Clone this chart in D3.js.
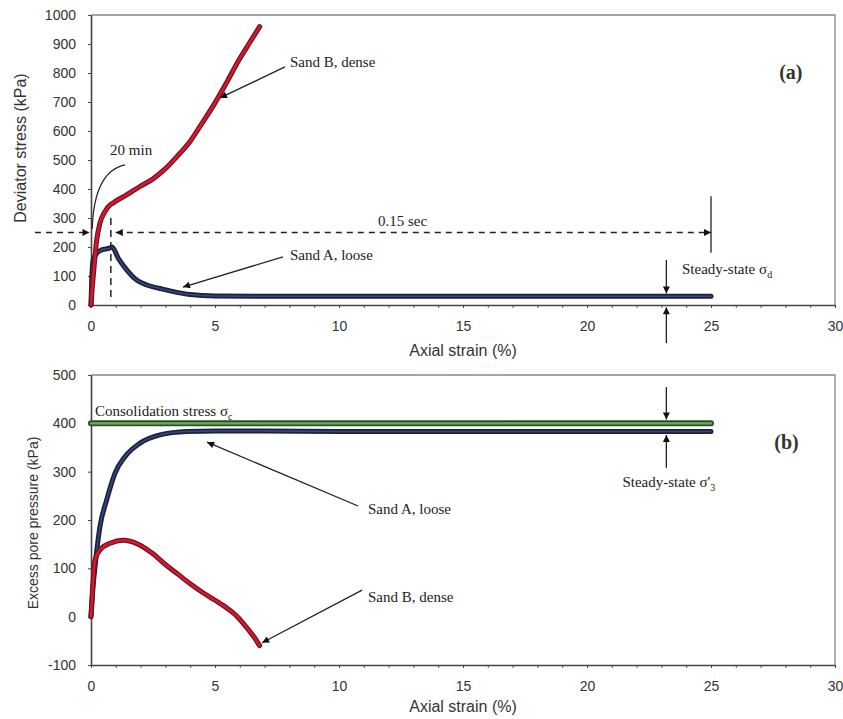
<!DOCTYPE html>
<html>
<head>
<meta charset="utf-8">
<script src="https://cdn.jsdelivr.net/npm/d3@7"></script>
<style>
  body { margin: 0; background: #fff; }
  svg text { font-family: "Liberation Sans", Arial, sans-serif; fill: #333; }
  .ann { font-family: "Liberation Serif", "Times New Roman", serif; font-size: 15px; fill: #222; }
  .tag { font-family: "Liberation Serif", "Times New Roman", serif; font-size: 20px; font-weight: bold; fill: #333; }
</style>
</head>
<body>
<div id="chart"></div>
<script>
// Axis ticks
const strainTicks = [0, 5, 10, 15, 20, 25, 30];
const devTicks = [0, 100, 200, 300, 400, 500, 600, 700, 800, 900, 1000];
const poreTicks = [-100, 0, 100, 200, 300, 400, 500];

// (a) deviator stress (kPa) vs axial strain (%)
const devStrainB = [0, 0.05, 0.09, 0.16, 0.23, 0.36, 0.56, 0.77, 0.9, 1.0, 1.4, 2.0, 2.5, 3.0, 3.5, 4.0, 4.5, 5.0, 5.5, 6.0, 6.4, 6.8];
const devB = [0, 60, 98, 166, 224, 282, 322, 345, 352, 358, 378, 410, 435, 470, 515, 565, 630, 697, 772, 850, 905, 960];
const devStrainA = [0, 0.03, 0.09, 0.23, 0.43, 0.74, 0.85, 1.1, 1.44, 1.84, 2.25, 2.78, 3.32, 4.0, 5.0, 7, 10, 15, 20, 25];
const devA = [0, 90, 155, 178, 190, 196, 200, 161, 121, 86, 69, 57, 46, 36, 31, 30, 30, 30, 30, 30];

// (b) excess pore pressure (kPa) vs axial strain (%)
const poreStrainA = [0, 0.08, 0.16, 0.36, 0.63, 0.97, 1.37, 1.98, 2.78, 3.86, 5, 7, 10, 15, 20, 25];
const poreA = [0, 60, 103, 186, 241, 297, 331, 359, 376, 383, 384, 384, 383, 383, 383, 383];
const poreStrainB = [0, 0.08, 0.16, 0.36, 0.77, 1.3, 1.9, 2.5, 3.0, 3.5, 4.0, 4.5, 5.0, 5.5, 5.9, 6.3, 6.6, 6.8];
const poreB = [0, 70, 117, 138, 152, 158, 150, 130, 108, 88, 68, 50, 34, 17, 0, -24, -44, -60];
const consolStrain = [0, 25];
const consolStress = [400, 400];

function drawChart(containerId) {
    var W = 843, H = 719;

    var svg = d3.select("#" + containerId)
        .append("svg")
        .attr("width", W)
        .attr("height", H);

    var defs = svg.append("defs");
    defs.append("marker")
        .attr("id", "arrow")
        .attr("viewBox", "0 0 10 10")
        .attr("refX", 10).attr("refY", 5)
        .attr("markerWidth", 9).attr("markerHeight", 7)
        .attr("markerUnits", "userSpaceOnUse")
        .attr("orient", "auto-start-reverse")
        .append("path")
        .attr("d", "M0,0L10,5L0,10Z")
        .attr("fill", "#111");

    const x = d3.scaleLinear().domain([0, 30]).range([91, 835]);
    const yTop = d3.scaleLinear().domain([0, 1000]).range([305, 15]);
    const yBot = d3.scaleLinear().domain([-100, 500]).range([665, 375]);

    function zip(xs, ys) { return xs.map((v, i) => ({x: v, y: ys[i]})); }

    function frame(y, ticks, title, titleX, titleY, titleSize, xTitleGap) {
        var g = svg.append("g");
        const y0 = y.range()[0], y1 = y.range()[1];
        // top & right border
        g.append("path")
            .attr("d", `M${x(0)},${y1}H${x(30)}V${y0}`)
            .attr("fill", "none").attr("stroke", "#888").attr("stroke-width", 1.3);
        // minor ticks on x
        g.append("g")
            .attr("transform", `translate(0,${y0})`)
            .call(d3.axisBottom(x).tickValues(d3.range(0, 31)).tickSize(3).tickSizeOuter(0).tickFormat(""))
            .call(s => s.select(".domain").remove())
            .selectAll("line").attr("stroke", "#555");
        var xa = g.append("g")
            .attr("transform", `translate(0,${y0})`)
            .call(d3.axisBottom(x).tickValues(strainTicks).tickSize(3).tickSizeOuter(0).tickPadding(13));
        xa.select(".domain").attr("stroke", "#444").attr("stroke-width", 1.6);
        xa.selectAll("line").attr("stroke", "#444");
        xa.selectAll("text").attr("font-size", 14).attr("fill", "#3a3a3a")
            .attr("font-family", "'Liberation Sans', Arial, sans-serif");
        var ya = g.append("g")
            .attr("transform", `translate(${x(0)},0)`)
            .call(d3.axisLeft(y).tickValues(ticks).tickSize(3).tickSizeOuter(0).tickPadding(12)
                .tickFormat(d => String(d)));
        ya.select(".domain").attr("stroke", "#444").attr("stroke-width", 1.6);
        ya.selectAll("line").attr("stroke", "#444");
        ya.selectAll("text").attr("font-size", 14).attr("fill", "#3a3a3a")
            .attr("font-family", "'Liberation Sans', Arial, sans-serif");
        // axis titles
        g.append("text")
            .attr("x", (x(0) + x(30)) / 2)
            .attr("y", y0 + xTitleGap)
            .attr("text-anchor", "middle")
            .style("font-size", "16px")
            .text("Axial strain (%)");
        g.append("text")
            .attr("transform", `translate(${titleX},${titleY}) rotate(-90)`)
            .attr("text-anchor", "middle")
            .style("font-size", titleSize + "px")
            .text(title);
    }

    frame(yTop, devTicks, "Deviator stress (kPa)", 26, 148, 16, 51);
    frame(yBot, poreTicks, "Excess pore pressure (kPa)", 38, 523, 14, 47);

    // thick curve with a darker rim
    function curve(data, y, rim, core, wRim, wCore) {
        const line = d3.line().x(d => x(d.x)).y(d => y(d.y)).curve(d3.curveMonotoneX);
        svg.append("path").datum(data)
            .attr("fill", "none").attr("stroke", rim).attr("stroke-width", wRim)
            .attr("stroke-linejoin", "round").attr("stroke-linecap", "round")
            .attr("d", line);
        svg.append("path").datum(data)
            .attr("fill", "none").attr("stroke", core).attr("stroke-width", wCore)
            .attr("stroke-linejoin", "round").attr("stroke-linecap", "round")
            .attr("d", line);
    }

    function arrow(x1, y1, x2, y2, y, opts) {
        opts = opts || {};
        var l = svg.append("line")
            .attr("x1", x(x1)).attr("y1", y(y1))
            .attr("x2", x(x2)).attr("y2", y(y2))
            .attr("stroke", "#222").attr("stroke-width", opts.w || 1.3);
        if (opts.dash) l.attr("stroke-dasharray", opts.dash);
        if (opts.end !== false) l.attr("marker-end", "url(#arrow)");
        if (opts.start) l.attr("marker-start", "url(#arrow)");
        return l;
    }

    function label(xv, yv, y, txt, sub, anchor) {
        var t = svg.append("text")
            .attr("class", "ann")
            .attr("x", x(xv)).attr("y", y(yv))
            .attr("text-anchor", anchor || "start")
            .text(txt);
        if (sub) {
            t.append("tspan").attr("font-size", 10).attr("dy", 4).text(sub);
        }
        return t;
    }

    // ---- panel (a)
    curve(zip(devStrainA, devA), yTop, "#1b2140", "#3a4878", 5, 1.6);
    curve(zip(devStrainB, devB), yTop, "#6e1020", "#d3192f", 5, 2.6);

    // time markers
    arrow(-2.26, 250, -0.06, 250, yTop, {dash: "6,5", w: 1.5});
    arrow(1.0, 250, 25, 250, yTop, {dash: "6,5", w: 1.5, start: true});
    arrow(0.8, 300, 0.8, 15, yTop, {dash: "7,5", w: 1.5, end: false});
    arrow(25, 375, 25, 180, yTop, {w: 1.3, end: false});

    // "20 min" leader
    var p = d3.path();
    p.moveTo(x(1.37), yTop(483));
    p.quadraticCurveTo(x(0.12), yTop(460), x(0.05), yTop(262));
    svg.append("path").attr("d", p.toString())
        .attr("fill", "none").attr("stroke", "#222").attr("stroke-width", 1.2);
    label(0.77, 517, yTop, "20 min");
    label(11.57, 272, yTop, "0.15 sec");

    arrow(7.82, 821, 5.2, 714, yTop);
    label(8.02, 822, yTop, "Sand B, dense");
    arrow(7.74, 166, 3.71, 62, yTop);
    label(8.02, 155, yTop, "Sand A, loose");

    arrow(23.2, 155, 23.2, 40, yTop);
    arrow(23.2, -131, 23.2, -8, yTop);
    label(23.83, 107, yTop, "Steady-state σ", "d");

    svg.append("text").attr("class", "tag")
        .attr("x", x(27.75)).attr("y", yTop(780))
        .text("(a)");

    // ---- panel (b)
    curve(zip(consolStrain, consolStress), yBot, "#2d4f2a", "#6aae58", 6, 2.4);
    curve(zip(poreStrainA, poreA), yBot, "#1b2140", "#3a4878", 5, 1.6);
    curve(zip(poreStrainB, poreB), yBot, "#6e1020", "#d3192f", 5, 2.6);

    label(0.16, 415, yBot, "Consolidation stress σ", "c");

    arrow(10.77, 229, 4.68, 361, yBot);
    label(11.17, 212, yBot, "Sand A, loose");
    arrow(10.93, 55, 6.9, -54, yBot);
    label(11.17, 30, yBot, "Sand B, dense");

    arrow(23.2, 475, 23.2, 408, yBot);
    arrow(23.2, 308, 23.2, 376, yBot);
    label(23.3, 268, yBot, "Steady-state σ'", "3", "middle");

    svg.append("text").attr("class", "tag")
        .attr("x", x(27.55)).attr("y", yBot(347))
        .text("(b)");
}

drawChart("chart");
</script>
</body>
</html>
